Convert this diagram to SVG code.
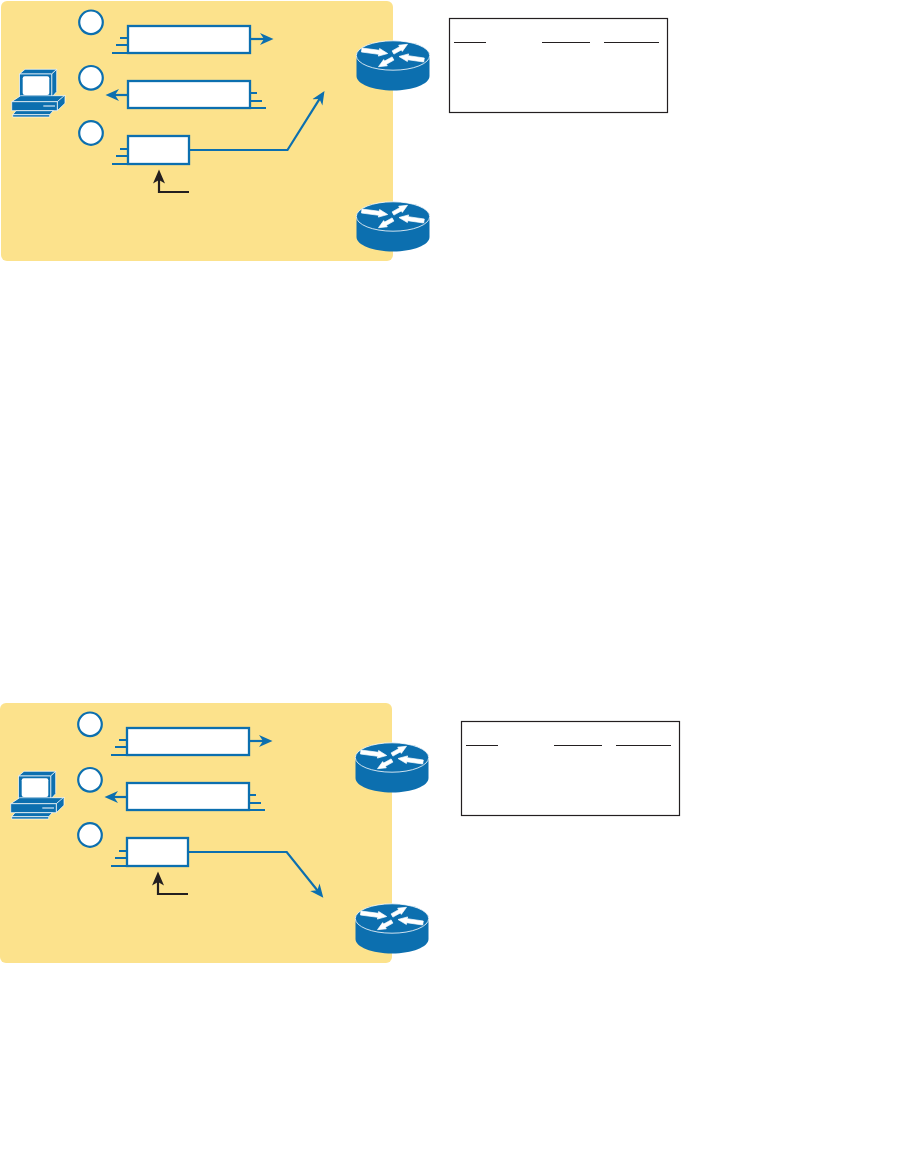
<svg xmlns="http://www.w3.org/2000/svg" width="918" height="1161" viewBox="0 0 918 1161">
<style>
.panel{fill:#FCE28C}
.num{fill:#fff;stroke:#0C6FAF;stroke-width:2.2}
.pkt{fill:#fff;stroke:#0C6FAF;stroke-width:2.3}
.tick{fill:none;stroke:#0C6FAF;stroke-width:2}
.link{fill:none;stroke:#0C6FAF;stroke-width:2.2;stroke-linejoin:miter}
.dark{fill:none;stroke:#231F20;stroke-width:2.2}
.tbl{fill:#fff;stroke:#231F20;stroke-width:1.2}
.rule{stroke:#231F20;stroke-width:1.1;fill:none}
.rb{fill:#0C6FAF}
.rt{fill:#0C6FAF;stroke:#fff;stroke-width:.8}
.ra{fill:#fff;stroke:#fff;stroke-width:.7}
.pb{fill:#0C6FAF;stroke:#fff;stroke-width:.7;stroke-linejoin:round}
</style>
<defs>
<marker id="headBlue" markerUnits="userSpaceOnUse" markerWidth="16" markerHeight="14" viewBox="0 -7 16 14" refX="9" refY="0" orient="auto"><path d="M0,-6L13.5,0L0,6L4,0z" fill="#0C6FAF"/></marker>
<marker id="headDark" markerUnits="userSpaceOnUse" markerWidth="16" markerHeight="14" viewBox="0 -7 16 14" refX="9" refY="0" orient="auto"><path d="M0,-6L14,0L0,6L3.5,0z" fill="#231F20"/></marker>
<g id="router">
<path class="rb" d="M-36.5,0V20.5C-36.5,28.5-20,35-0,35S36.5,28.5,36.5,20.5V0z"/>
<ellipse class="rt" cx="0" cy="0" rx="36.7" ry="14.7"/>
<path class="ra" d="M-31,-7.5L-13.7,-5.2L-13.4,-7L-5.3,-2L-14.6,.6L-14.3,-1.2L-31.6,-3.5z"/>
<path class="ra" d="M-.9,-4.6L6.6,-8.8L5.7,-10.3L14.5,-11.2L9.3,-4.1L8.4,-5.6L.9,-1.4z"/>
<path class="ra" d="M.9,4.6L-6.6,8.8L-5.7,10.3L-14.5,11.2L-9.3,4.1L-8.4,5.6L-.9,1.4z"/>
<path class="ra" d="M31.3,2.5L15.3,.2L15.6,-1.6L6,1L14.4,6L14.7,4.2L30.7,6.5z"/>
</g>
<g id="pc">
<path class="pb" d="M19.5,74L25,69.3H56.7L51.7,74z"/>
<path class="pb" d="M51.7,74L56.7,69.3V91.7L51.7,97.3z"/>
<rect class="pb" x="19.5" y="74" width="32.2" height="23.3"/>
<rect x="22.7" y="76.3" width="26.6" height="18.7" rx="2" fill="#fff"/>
<path class="pb" d="M11.7,101.7L20.7,95.7H65L57.3,101.7z"/>
<path class="pb" d="M57.3,101.7L65,95V103.3L57.3,110.7z"/>
<rect class="pb" x="11.7" y="101.7" width="45.6" height="9"/>
<path d="M43.3,106H55" stroke="#fff" stroke-width="1" fill="none"/>
<path class="pb" d="M16,110.7H53.3L49.7,114.7H12.7z"/>
<path class="pb" d="M12.7,114.7H49.7V117H12.7z"/>
</g>
</defs>

<g id="panel-top"><rect class="panel" x="1" y="1" width="392" height="260" rx="6"/></g>
<g id="panel-bottom"><rect class="panel" x="0" y="703" width="392" height="260" rx="6"/></g>

<g id="pc-top"><use href="#pc"/></g>
<g id="router-top-1"><use href="#router" x="393" y="55.5"/></g>
<g id="router-top-2"><use href="#router" x="393" y="216.5"/></g>
<g id="table-top"><rect class="tbl" x="449.5" y="18.5" width="218" height="94"/><path class="rule" d="M454,42.5H486M542,42.5H590M604,42.5H659"/></g>
<g id="step-top-1"><circle class="num" cx="91" cy="22.3" r="11.8"/></g>
<g id="step-top-2"><circle class="num" cx="91" cy="77.8" r="11.8"/></g>
<g id="step-top-3"><circle class="num" cx="91" cy="133" r="11.8"/></g>
<g id="packet-top-1"><rect class="pkt" x="128" y="26" width="122" height="27"/></g>
<g id="packet-top-2"><rect class="pkt" x="128" y="81" width="122" height="27"/></g>
<g id="packet-top-3"><rect class="pkt" x="128" y="136" width="61" height="28"/></g>

<g id="pc-bottom"><use href="#pc" x="-1" y="702"/></g>
<g id="router-bottom-1"><use href="#router" x="392" y="757.5"/></g>
<g id="router-bottom-2"><use href="#router" x="392" y="918.5"/></g>
<g id="table-bottom"><rect class="tbl" x="461.5" y="721.5" width="218" height="94"/><path class="rule" d="M466,745.5H498M554,745.5H602M616,745.5H671"/></g>
<g id="step-bottom-1"><circle class="num" cx="90" cy="724.3" r="11.8"/></g>
<g id="step-bottom-2"><circle class="num" cx="90" cy="779.8" r="11.8"/></g>
<g id="step-bottom-3"><circle class="num" cx="90" cy="835" r="11.8"/></g>
<g id="packet-bottom-1"><rect class="pkt" x="127" y="728" width="122" height="27"/></g>
<g id="packet-bottom-2"><rect class="pkt" x="127" y="783" width="122" height="27"/></g>
<g id="packet-bottom-3"><rect class="pkt" x="127" y="838" width="61" height="28"/></g>

<g id="connectors">
<path class="tick" d="M120,38H128M116,45H128M112,53H128"/>
<path class="tick" d="M250,93H257M250,101H262M250,108H266"/>
<path class="tick" d="M120,149H128M116,156H128M112,164H128"/>
<path class="link" d="M250,39H269" marker-end="url(#headBlue)"/>
<path class="link" d="M128,95H110" marker-end="url(#headBlue)"/>
<path class="link" d="M189,150H287.5L322.1,94.8" marker-end="url(#headBlue)"/>
<path class="dark" d="M189,192H159V174.5" marker-end="url(#headDark)"/>

<path class="tick" d="M119,740H127M115,747H127M111,755H127"/>
<path class="tick" d="M249,795H256M249,803H261M249,810H265"/>
<path class="tick" d="M119,851H127M115,858H127M111,866H127"/>
<path class="link" d="M249,741H268" marker-end="url(#headBlue)"/>
<path class="link" d="M127,797H109" marker-end="url(#headBlue)"/>
<path class="link" d="M188,852H286.7L320.5,894.2" marker-end="url(#headBlue)"/>
<path class="dark" d="M188,894H158V876.5" marker-end="url(#headDark)"/>
</g>
</svg>
